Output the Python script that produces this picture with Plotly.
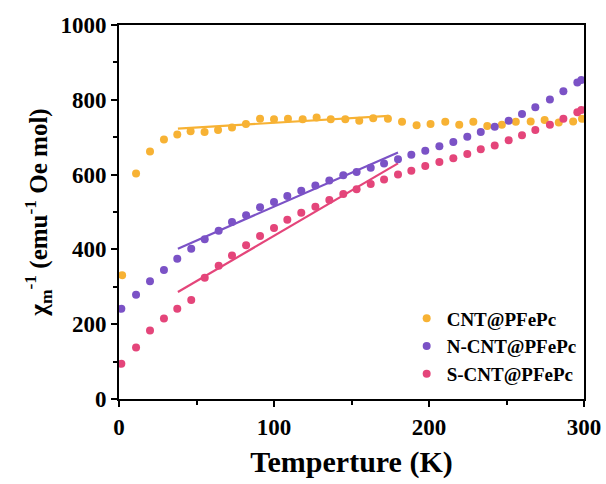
import plotly.graph_objects as go

# ---------------- data ----------------
t_cnt = [2, 11, 20, 29, 37.6, 46.2, 55.2, 63.9, 72.9, 81.9, 91, 100, 109, 118.5, 127.5,
         136.6, 146, 155, 164, 173.5, 182.6, 192, 201, 210.5, 219.5, 228.6, 237.6, 247,
         256, 265.6, 274.6, 283.7, 293, 298.7]
chi_cnt = [331, 603, 662, 694, 707, 716, 714, 719, 726, 735, 749, 748, 749, 748, 753,
           748, 748, 744, 751, 749, 741, 732, 735, 741, 733, 741, 730, 733, 741, 742,
           746, 739, 742, 749]

t_ns = [1.5, 11, 20, 29, 37.6, 46.6, 55.3, 64.3, 72.9, 82, 91, 100, 108.6, 117.6, 126.7,
        135.7, 144.7, 153.3, 162.4, 171, 180, 188.6, 197.6, 206.7, 215.7, 224.7, 233.4,
        242.4, 251.4, 260, 268.6, 278, 286.7, 295.7, 298.3]
chi_n = [241, 279, 315, 345, 375, 402, 427, 450, 473, 491, 513, 527, 543, 557, 571, 584,
         598, 607, 618, 630, 641, 653, 664, 676, 687, 701, 714, 728, 744, 762, 780, 801,
         823, 846, 853]
chi_s = [94, 138, 183, 215, 241, 265, 324, 356, 384, 411, 436, 457, 479, 498, 514, 532,
         548, 561, 575, 587, 600, 610, 623, 634, 644, 655, 668, 678, 692, 705, 719, 733,
         749, 767, 773]

fit_cnt_t = [38, 174]
fit_cnt_v = [723, 757]
fit_n_t = [38, 180]
fit_n_v = [402, 659]
fit_s_t = [38, 180]
fit_s_v = [286, 630]

x_ticks = [0, 100, 200, 300]
x_minor = [50, 150, 250]
y_ticks = [0, 200, 400, 600, 800, 1000]
y_minor = [100, 300, 500, 700, 900]

names = ["CNT@PFePc", "N-CNT@PFePc", "S-CNT@PFePc"]
colors = ["#F7B234", "#7B52C6", "#E4457A"]

# ---------------- figure ----------------
fig = go.Figure()
font_family = "Liberation Serif"

series = [(t_cnt, chi_cnt, fit_cnt_t, fit_cnt_v),
          (t_ns, chi_n, fit_n_t, fit_n_v),
          (t_ns, chi_s, fit_s_t, fit_s_v)]

for (tx, vy, ft, fv), nm, c in zip(series, names, colors):
    fig.add_trace(go.Scatter(
        x=ft, y=fv, mode="lines", line=dict(color=c, width=2.2),
        showlegend=False, hoverinfo="skip"))

for (tx, vy, ft, fv), nm, c in zip(series, names, colors):
    fig.add_trace(go.Scatter(
        x=tx, y=vy, mode="markers", name=nm,
        marker=dict(color=c, size=8, line=dict(width=0))))

axis_common = dict(
    showline=True, linecolor="black", linewidth=2, mirror=True,
    ticks="outside", ticklen=6, tickwidth=2, tickcolor="black",
    showgrid=False, zeroline=False, automargin=False,
    tickfont=dict(family=font_family, size=23, color="black", weight="bold"),
)

fig.update_layout(
    width=606, height=484,
    margin=dict(l=119, r=22, t=25, b=85),
    paper_bgcolor="white", plot_bgcolor="white",
    font=dict(family=font_family, color="black"),
    xaxis=dict(range=[0, 300], tickvals=x_ticks,
               minor=dict(tickvals=x_minor, ticks="outside", ticklen=4,
                          tickwidth=2, tickcolor="black"),
               title=dict(text="<b>Temperture (K)</b>",
                          font=dict(family=font_family, size=30, color="black"),
                          standoff=12),
               **axis_common),
    yaxis=dict(range=[0, 1000], tickvals=y_ticks,
               minor=dict(tickvals=y_minor, ticks="outside",
                          ticklen=4, tickwidth=2, tickcolor="black"),
               title=dict(text="<b>χ<sub>m</sub><sup>-1</sup> (emu<sup>-1</sup> Oe mol)</b>",
                          font=dict(family=font_family, size=25, color="black"),
                          standoff=6),
               **axis_common),
    legend=dict(x=0.995, y=0.015, xanchor="right", yanchor="bottom",
                bgcolor="rgba(0,0,0,0)", borderwidth=0,
                font=dict(family=font_family, size=19, color="black", weight="bold"),
                itemsizing="trace", tracegroupgap=0),
)

fig.write_html("out.html")
